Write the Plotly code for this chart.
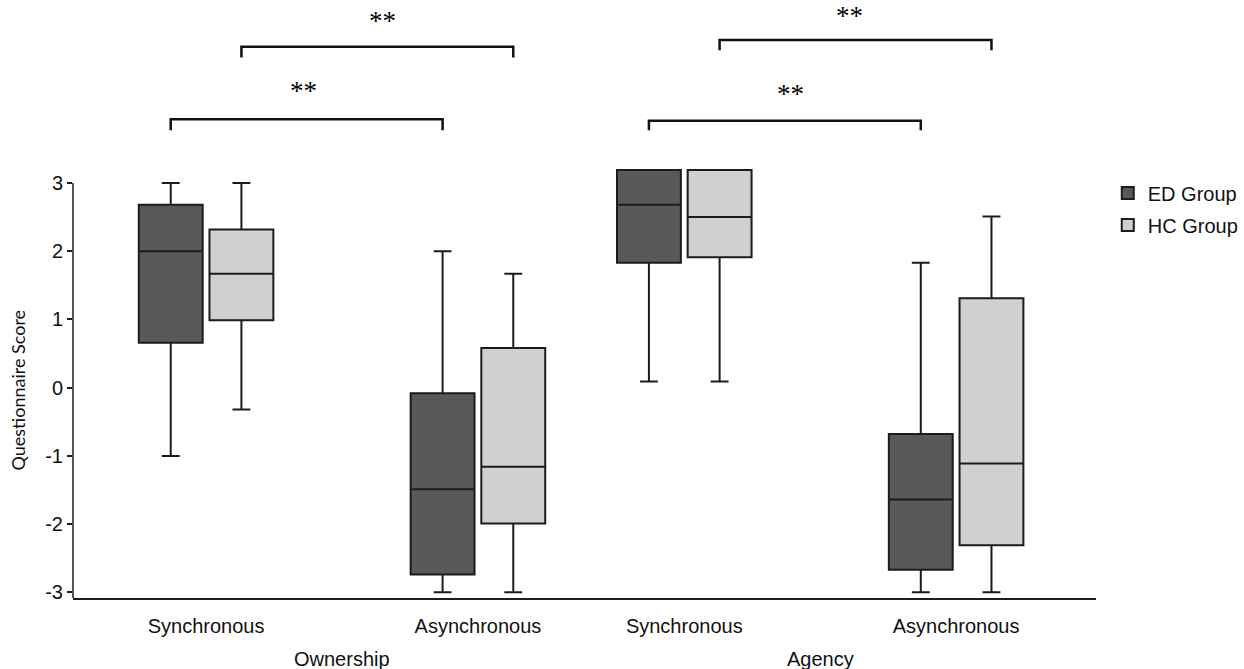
import plotly.graph_objects as go

# ---------------- data ----------------
conditions = ["Synchronous", "Asynchronous", "Synchronous", "Asynchronous"]
measures = ["Ownership", "Agency"]
groups = ["ED Group", "HC Group"]

ed_upper = [3.0, 2.0, 3.19, 1.83]
ed_q3 = [2.68, -0.08, 3.19, -0.68]
ed_median = [2.0, -1.49, 2.68, -1.64]
ed_q1 = [0.66, -2.74, 1.83, -2.67]
ed_lower = [-1.0, -3.0, 0.09, -3.0]

hc_upper = [3.0, 1.67, 3.19, 2.51]
hc_q3 = [2.32, 0.58, 3.19, 1.31]
hc_median = [1.67, -1.16, 2.5, -1.11]
hc_q1 = [0.99, -1.99, 1.91, -2.31]
hc_lower = [-0.32, -3.0, 0.09, -3.0]

y_ticks = [-3, -2, -1, 0, 1, 2, 3]
sig_labels = ["**", "**", "**", "**"]  # own-ED, own-HC, agency-ED, agency-HC
y_title = "Questionnaire Score"

# ---------------- layout constants ----------------
W, H = 1244, 669
ML, MR, MT, MB = 73, 148, 10, 71
cat_pos = [0.0, 1.0, 1.759, 2.759]       # condition centres on the x axis
offset = 0.13                            # group offset from condition centre
box_w = 0.235
x_range = [-0.4895, 3.2735]
y_range = [-3.083, 5.536]

ED_FILL = "#595959"
HC_FILL = "#d0cfd1"
LINE = "#1c1c1c"
TXT = "#111111"
SANS = "Liberation Sans"

fig = go.Figure()

ed_x = [p - offset for p in cat_pos]
hc_x = [p + offset for p in cat_pos]

fig.add_trace(go.Box(
    name=groups[0], x=ed_x, q1=ed_q1, median=ed_median, q3=ed_q3,
    lowerfence=ed_lower, upperfence=ed_upper, width=box_w,
    fillcolor=ED_FILL, line=dict(color=LINE, width=2), whiskerwidth=0.28,
    boxpoints=False, hoverinfo="skip", legendgroup="ed"))
fig.add_trace(go.Box(
    name=groups[1], x=hc_x, q1=hc_q1, median=hc_median, q3=hc_q3,
    lowerfence=hc_lower, upperfence=hc_upper, width=box_w,
    fillcolor=HC_FILL, line=dict(color=LINE, width=2), whiskerwidth=0.28,
    boxpoints=False, hoverinfo="skip", legendgroup="hc"))

# significance brackets: (start x, end x, bar height, tick drop, label height, label x shift)
brackets = [
    (ed_x[0], ed_x[1], 3.934, 0.16, 4.35, -3, sig_labels[0]),
    (hc_x[0], hc_x[1], 4.998, 0.16, 5.38, 5, sig_labels[1]),
    (ed_x[2], ed_x[3], 3.913, 0.14, 4.31, 6, sig_labels[2]),
    (hc_x[2], hc_x[3], 5.096, 0.15, 5.45, -6, sig_labels[3]),
]
for x0, x1, yb, drop, yl, xs, lab in brackets:
    fig.add_shape(type="path", xref="x", yref="y",
                  path=f"M {x0},{yb - drop} L {x0},{yb} L {x1},{yb} L {x1},{yb - drop}",
                  line=dict(color="#111111", width=2.5))
    fig.add_annotation(x=(x0 + x1) / 2, y=yl, xref="x", yref="y", text=lab,
                       showarrow=False, xshift=xs,
                       font=dict(family="Liberation Serif", size=27, color="#000000"))

# y axis line (only up to the top tick)
fig.add_shape(type="line", xref="paper", yref="y", x0=0, x1=0,
              y0=y_range[0], y1=y_ticks[-1], line=dict(color=LINE, width=1.5))

# y axis title, centred on the drawn axis line
fig.add_annotation(xref="paper", x=0, xshift=-56, xanchor="center",
                   yref="y", y=(y_range[0] + y_ticks[-1]) / 2, yanchor="middle",
                   text=y_title, textangle=-90, showarrow=False,
                   font=dict(family="Lato", size=18, color=TXT))

# measure labels under the conditions
plot_h = H - MT - MB
for i, m in enumerate(measures):
    xc = (cat_pos[2 * i] + cat_pos[2 * i + 1]) / 2
    fig.add_annotation(x=xc, xref="x", y=-(659 - (H - MB)) / plot_h, yref="paper",
                       yanchor="middle", text=m, showarrow=False,
                       font=dict(family=SANS, size=20, color=TXT))

fig.update_layout(
    width=W, height=H,
    margin=dict(l=ML, r=MR, t=MT, b=MB, pad=0, autoexpand=False),
    plot_bgcolor="white", paper_bgcolor="white",
    boxmode="overlay",
    showlegend=True,
    legend=dict(x=1.0115, xanchor="left", y=0.722, yanchor="top",
                font=dict(family=SANS, size=20, color=TXT),
                tracegroupgap=3, traceorder="grouped", bgcolor="rgba(0,0,0,0)"),
    xaxis=dict(range=x_range, tickvals=cat_pos, ticktext=conditions,
               showline=True, linecolor=LINE, linewidth=1.5, ticks="",
               showgrid=False, zeroline=False, ticklabelstandoff=9,
               tickfont=dict(family=SANS, size=20, color=TXT)),
    yaxis=dict(range=y_range, tickvals=y_ticks, ticktext=[str(v) for v in y_ticks],
               showline=False, ticks="outside", ticklen=5, tickwidth=1.5,
               tickcolor=LINE, showgrid=False, zeroline=False,
               tickfont=dict(family=SANS, size=20, color=TXT)),
)

fig.write_html("out.html")
